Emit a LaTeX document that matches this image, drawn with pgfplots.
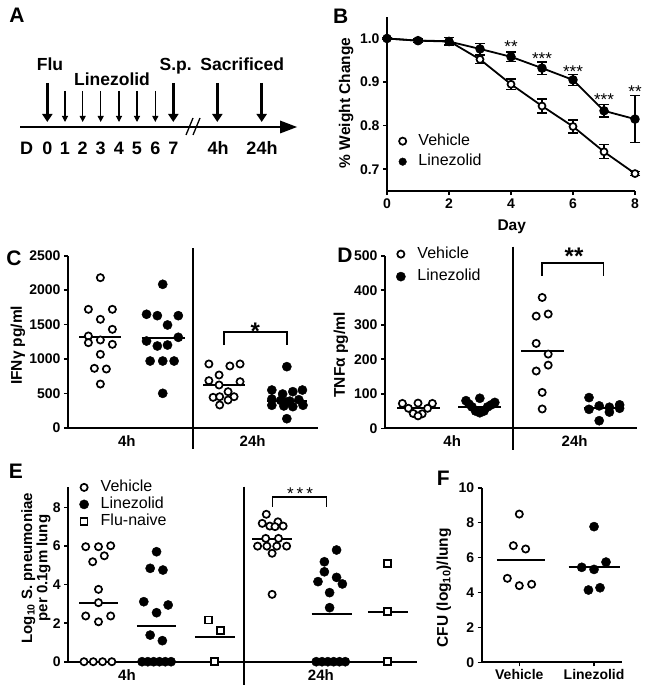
\documentclass[border=0pt]{standalone}
\usepackage{fontspec}
\setmainfont{Liberation Sans}
\usepackage{pgfplots}
\pgfplotsset{compat=1.18}
\usetikzlibrary{arrows.meta}

\pgfplotsset{
  panel/.style={
    scale only axis, anchor=south west, clip=false,
    axis x line=bottom, axis y line=left,
    axis line style={-, line width=1.8pt},
    tick align=outside, major tick length=4pt,
    tick style={line width=1.6pt, black},
    /pgf/number format/assume math mode=true,
    /pgf/number format/1000 sep={},
    ticklabel style={font=\fontsize{14}{15}\selectfont\bfseries},
    label style={font=\fontsize{15.5}{17}\selectfont\bfseries},
    legend cell align=left,
    legend image code/.code={\draw[##1] plot coordinates {(0pt,0pt)};},
    legend style={draw=none, fill=none, anchor=north west,
      font=\fontsize{16}{18}\selectfont, column sep=12pt,
      nodes={inner sep=0pt, text height=11.5pt, text depth=3pt}},
  },
  cat/.style={xtick style={draw=none},
    xticklabel style={font=\fontsize{15}{16}\selectfont\bfseries}},
  opn/.style={only marks, mark=*, mark size=3.6pt,
    mark options={fill=white, draw=black, line width=1.7pt}},
  fil/.style={only marks, mark=*, mark size=4.6pt,
    mark options={fill=black, draw=black, line width=0.4pt}},
  sqr/.style={only marks, mark=square*, mark size=3.5pt,
    mark options={fill=white, draw=black, line width=1.6pt}},
  med/.style={black, line width=1.9pt, no marks, forget plot},
}
\tikzset{letter/.style={font=\fontsize{21}{21}\selectfont\bfseries},
  brk/.style={line width=1.6pt}}

\begin{document}
\begin{tikzpicture}
\fill[white] (0,0) rectangle (649pt,-695pt);
\path[use as bounding box] (0,0) rectangle (649pt,-695pt);

% ---------- A: timeline ----------
\begin{scope}[x=1pt, y=-1pt]
\node[letter] at (17,15) {A};
\draw[line width=2.4pt] (20,127) -- (284,127);
\fill (280,120.5) -- (297,127) -- (280,133.5) -- cycle;
\draw[line width=1.3pt] (186,135) -- (193,118) (193,135) -- (200,118);
\foreach \x in {47.3,173.3,217.3,261.7}
  \draw[line width=2.6pt,-{Triangle[width=10pt,length=8pt]}] (\x,83) -- (\x,122);
\foreach \x in {65,82.7,100.7,119,137,155.3}
  \draw[line width=1.1pt,-{Triangle[width=6pt,length=6pt]}] (\x,91) -- (\x,122);
\foreach \x/\t in {26.7/D,47.3/0,65/1,82.7/2,100.7/3,119/4,137/5,155.3/6,173.3/7,218/4h,262/24h}
  \node[font=\fontsize{18}{18}\selectfont\bfseries, anchor=base] at (\x,155) {\t};
\begin{scope}[every node/.style={font=\fontsize{17.5}{18}\selectfont\bfseries, anchor=base}]
\node at (50,71) {Flu};
\node at (112,86) {Linezolid};
\node at (175.7,71) {S.p.};
\node at (242.3,71) {Sacrificed};
\end{scope}
\node[letter] at (340.7,16) {B};
\node[letter] at (14,258) {C};
\node[letter] at (345,255) {D};
\node[letter] at (16,471) {E};
\node[letter] at (443.3,478) {F};
\end{scope}

% ---------- B: weight change ----------
\begin{axis}[panel, at={(387pt,-191pt)}, width=248pt, height=174.3pt,
  xmin=0, xmax=8, ymin=0.65, ymax=1.05,
  xtick={0,2,4,6,8}, ytick={0.7,0.8,0.9,1.0},
  yticklabel style={/pgf/number format/fixed, /pgf/number format/fixed zerofill,
    /pgf/number format/precision=1},
  xlabel={Day}, ylabel={\% Weight Change},
  xlabel style={at={(axis description cs:0.503,-0.205)}, anchor=center},
  ylabel style={at={(axis description cs:-0.165,0.505)}, anchor=center},
  legend style={at={(axis description cs:0.035,0.34)}, row sep=6pt},
]
\addlegendimage{opn}\addlegendentry{Vehicle}
\addlegendimage{fil, mark size=3.8pt}\addlegendentry{Linezolid}
\addplot[black, line width=1.8pt, mark=*, mark size=3.5pt,
  mark options={fill=white, line width=1.7pt},
  error bars/.cd, y dir=both, y explicit,
  error bar style={line width=1.2pt},
  error mark options={rotate=90, mark size=5pt, line width=1.2pt}]
  coordinates {
  (0,1.000) +- (0,0.002)
  (1,0.995) +- (0,0.004)
  (2,0.994) +- (0,0.008)
  (3,0.952) +- (0,0.010)
  (4,0.895) +- (0,0.012)
  (5,0.845) +- (0,0.016)
  (6,0.798) +- (0,0.015)
  (7,0.740) +- (0,0.016)
  (8,0.690) +- (0,0.005)
};
\addplot[black, line width=1.8pt, mark=*, mark size=3.8pt,
  mark options={fill=black},
  error bars/.cd, y dir=both, y explicit,
  error bar style={line width=1.2pt},
  error mark options={rotate=90, mark size=5pt, line width=1.2pt}]
  coordinates {
  (0,1.000) +- (0,0.002)
  (1,0.995) +- (0,0.004)
  (2,0.993) +- (0,0.010)
  (3,0.976) +- (0,0.012)
  (4,0.958) +- (0,0.011)
  (5,0.932) +- (0,0.014)
  (6,0.905) +- (0,0.012)
  (7,0.834) +- (0,0.014)
  (8,0.815) +- (0,0.054)
};
\begin{scope}[every node/.style={font=\fontsize{17}{17}\selectfont, yshift=-3.8pt}]
\node at (axis cs:4,0.990) {**};
\node at (axis cs:5,0.963) {***};
\node at (axis cs:6,0.932) {***};
\node at (axis cs:7,0.869) {***};
\node at (axis cs:8,0.886) {**};
\end{scope}
\end{axis}

% ---------- C: IFN-gamma ----------
\begin{axis}[panel, cat, at={(68pt,-428pt)}, width=250pt, height=172.3pt,
  xmin=0.46, xmax=4.63, ymin=0, ymax=2500,
  ytick={0,500,1000,1500,2000,2500},
  xtick={1.44,3.54}, xticklabels={4h,24h},
  ylabel={IFNγ pg/ml},
  ylabel style={at={(axis description cs:-0.2,0.48)}, anchor=center},
]
\addplot[opn] coordinates {
  (1,2181) (0.8,1722) (1.2,1722) (1,1577) (1.2,1432) (0.8,1335) (0.8,1238)
  (1,1277) (1.2,1214) (1,1069) (0.9,866) (1.1,856) (1,638)};
\addplot[fil] coordinates {
  (2.04,2085) (1.77,1650) (1.95,1630) (2.30,1630) (2.12,1495) (1.77,1262)
  (2.30,1316) (1.95,1190) (2.12,1204) (1.83,972) (2.04,972) (2.23,972) (2.04,503)};
\addplot[opn] coordinates {
  (2.81,929) (3.16,900) (3.33,929) (2.98,769) (2.81,687) (3.33,672) (2.98,624)
  (3.13,527) (2.88,445) (2.99,454) (3.23,454) (3.13,406) (2.99,334)};
\addplot[fil] coordinates {
  (4.11,890) (3.86,551) (4.04,493) (4.21,527) (4.37,551) (3.86,420) (4.01,400)
  (4.16,390) (4.31,410) (3.86,330) (4.06,320) (4.21,310) (4.38,330) (4.11,135) (4.11,375)};
\addplot[med] coordinates {(0.65,1320) (1.35,1320)};
\addplot[med] coordinates {(1.69,1300) (2.41,1300)};
\addplot[med] coordinates {(2.72,624) (3.41,624)};
\addplot[med] coordinates {(3.78,395) (4.44,395)};
\draw[line width=1.6pt] (axis cs:2.545,2607) -- (axis cs:2.545,-310);
\draw[brk] (axis cs:3.06,1204) -- (axis cs:3.06,1389) -- (axis cs:4.11,1389) -- (axis cs:4.11,1204);
\node[font=\fontsize{24}{24}\selectfont\bfseries, yshift=-5pt] at (axis cs:3.585,1470) {*};
\end{axis}

% ---------- D: TNF-alpha ----------
\begin{axis}[panel, cat, at={(385pt,-428.3pt)}, width=252pt, height=172.6pt,
  xmin=0.45, xmax=4.65, ymin=0, ymax=500,
  ytick={0,100,200,300,400,500},
  xtick={1.57,3.61}, xticklabels={4h,24h},
  ylabel={TNFα pg/ml},
  ylabel style={at={(axis description cs:-0.175,0.425)}, anchor=center},
  legend style={at={(axis description cs:0.032,1.064)}, row sep=8pt},
]
\addlegendimage{opn}\addlegendentry{Vehicle}
\addlegendimage{fil}\addlegendentry{Linezolid}
\addplot[opn] coordinates {
  (0.74,72) (1,73) (1.24,72) (0.84,58) (1.16,58) (0.92,43) (1.07,42) (1,36)};
\addplot[fil] coordinates {
  (1.80,80) (2.03,87) (2.28,75) (1.90,62) (2.16,62) (1.96,50) (2.10,50)
  (2.03,45) (1.85,70) (2.22,68)};
\addplot[opn] coordinates {
  (3.07,379) (2.97,325) (3.17,331) (2.97,246) (3.17,215) (3.17,183)
  (2.97,166) (3.07,104) (3.07,56)};
\addplot[fil] coordinates {
  (3.85,89) (3.85,55) (4.02,65) (4.19,61) (4.36,68) (4.36,58) (4.19,47) (4.02,22)};
\addplot[med] coordinates {(0.65,58) (1.36,58)};
\addplot[med] coordinates {(1.67,63) (2.39,63)};
\addplot[med] coordinates {(2.72,224) (3.43,224)};
\addplot[med] coordinates {(3.76,58) (4.42,58)};
\draw[line width=1.6pt] (axis cs:2.58,526) -- (axis cs:2.58,-62);
\draw[brk] (axis cs:3.07,442) -- (axis cs:3.07,478) -- (axis cs:4.09,478) -- (axis cs:4.09,442);
\node[font=\fontsize{24}{24}\selectfont\bfseries, yshift=-5pt] at (axis cs:3.6,512) {**};
\end{axis}

% ---------- E: bacterial burden ----------
\begin{axis}[panel, cat, at={(68.3pt,-661.7pt)}, width=348.4pt, height=175pt,
  xmin=0.48, xmax=6.48, ymin=0, ymax=9.07,
  ytick={0,2,4,6,8},
  xtick={1.49,4.83}, xticklabels={4h,24h},
  ylabel={Log\textsubscript{10} S. pneumoniae\\per 0.1gm lung},
  ylabel style={align=center, font=\fontsize{15}{14}\selectfont\bfseries,
    at={(axis description cs:-0.093,0.535)}, anchor=center},
  legend style={at={(axis description cs:0.023,1.05)}, row sep=2.5pt},
]
\addlegendimage{opn}\addlegendentry{Vehicle}
\addlegendimage{fil}\addlegendentry{Linezolid}
\addlegendimage{sqr}\addlegendentry{Flu-naive}
\addplot[opn] coordinates {
  (0.78,5.96) (1,5.96) (1.21,6.01) (0.9,5.18) (1.1,5.49) (1,3.75) (1,3.06)
  (0.78,2.37) (1.21,2.37) (1,2.07) (0.75,0) (0.91,0) (1.07,0) (1.23,0)};
\addplot[fil] coordinates {
  (2,5.70) (1.89,4.84) (2.11,4.75) (1.78,3.11) (2.2,2.94) (2,2.54) (1.89,1.38)
  (2.1,1.09) (1.75,0) (1.85,0) (1.95,0) (2.05,0) (2.15,0) (2.25,0)};
\addplot[sqr] coordinates {(2.89,2.16) (3.1,1.61) (3,0)};
\addplot[opn] coordinates {
  (3.89,7.64) (3.82,7.17) (4.09,7.25) (3.95,7.03) (4.18,7.03) (4.04,7.0)
  (3.88,6.39) (4.1,6.39) (3.74,5.99) (3.9,5.99) (4.07,5.99) (4.24,5.99)
  (3.99,5.62) (3.99,3.49)};
\addplot[fil] coordinates {
  (5.1,5.79) (4.89,5.18) (4.89,4.66) (4.78,4.15) (5.1,4.37) (5.2,4.03) (4.98,3.58)
  (4.98,2.8) (4.75,0) (4.85,0) (4.95,0) (5.05,0) (5.15,0) (5.25,0)};
\addplot[sqr] coordinates {(5.98,5.1) (5.98,2.59) (5.98,0)};
\addplot[med] coordinates {(0.67,3.02) (1.34,3.02)};
\addplot[med] coordinates {(1.66,1.87) (2.34,1.87)};
\addplot[med] coordinates {(2.66,1.26) (3.35,1.26)};
\addplot[med] coordinates {(3.65,6.34) (4.34,6.34)};
\addplot[med] coordinates {(4.67,2.45) (5.36,2.45)};
\addplot[med] coordinates {(5.64,2.59) (6.33,2.59)};
\draw[line width=1.6pt] (axis cs:3.51,9.07) -- (axis cs:3.51,-1.2);
\draw[brk] (axis cs:4.0,8.03) -- (axis cs:4.0,8.55) -- (axis cs:4.93,8.55) -- (axis cs:4.93,8.03);
\node[font=\fontsize{17}{17}\selectfont, yshift=-3.8pt] at (axis cs:4.47,8.9) {*\hspace{3pt}*\hspace{3pt}*};
\end{axis}

% ---------- F: CFU ----------
\begin{axis}[panel, at={(481.7pt,-662.3pt)}, width=140pt, height=174.6pt,
  xmin=0.497, xmax=2.37, ymin=0, ymax=10,
  ytick={0,2,4,6,8,10},
  xtick={1,2}, xticklabels={Vehicle,Linezolid},
  xticklabel style={font=\fontsize{14}{15}\selectfont\bfseries},
  ylabel={CFU (log\textsubscript{10})/lung},
  ylabel style={at={(axis description cs:-0.27,0.426)}, anchor=center},
]
\addplot[opn] coordinates {
  (1,8.49) (0.92,6.68) (1.085,6.49) (0.84,4.81) (1,4.39) (1.165,4.47)};
\addplot[fil] coordinates {
  (2,7.77) (1.835,5.44) (2,5.32) (2.16,5.74) (1.925,4.14) (2.08,4.27)};
\addplot[med] coordinates {(0.70,5.88) (1.34,5.88)};
\addplot[med] coordinates {(1.66,5.46) (2.35,5.46)};
\end{axis}
\end{tikzpicture}
\end{document}
